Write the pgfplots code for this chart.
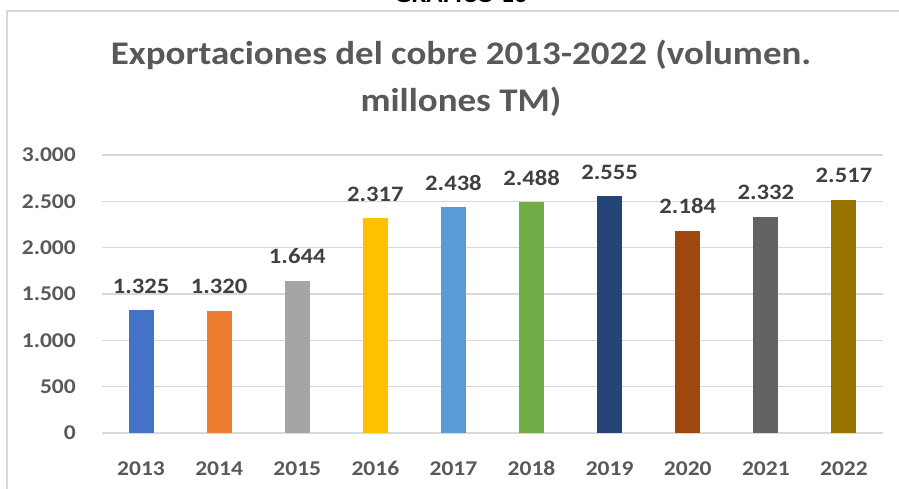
\documentclass[border=0pt]{standalone}
\usepackage{fontspec}
\setmainfont{Carlito}[FakeStretch=1.12]
\usepackage{pgfplots}
\pgfplotsset{compat=1.18}

\definecolor{txt}{HTML}{595959}
\definecolor{lbl}{HTML}{404040}
\definecolor{gridc}{HTML}{D9D9D9}
\definecolor{c13}{HTML}{4472C4}
\definecolor{c14}{HTML}{ED7D31}
\definecolor{c15}{HTML}{A5A5A5}
\definecolor{c16}{HTML}{FFC000}
\definecolor{c17}{HTML}{5B9BD5}
\definecolor{c18}{HTML}{70AD47}
\definecolor{c19}{HTML}{264478}
\definecolor{c20}{HTML}{9E480E}
\definecolor{c21}{HTML}{636363}
\definecolor{c22}{HTML}{997300}

\begin{document}
\begin{tikzpicture}[x=1pt,y=1pt]
\useasboundingbox (0,0) rectangle (899,488);
\begin{scope}
\clip (0,0) rectangle (899,488);
% chart frame, cut by the page on the right and at the bottom
\draw[gridc, line width=1.5pt] (7,-20) -- (7,477) -- (920,477);
% caption above the frame, only its lower part shows
\node[anchor=base, font=\fontsize{24}{24}\selectfont\bfseries, text=black]
  at (461,485.5) {GRÁFICO 10};
\end{scope}
% title
\node[anchor=base, font=\fontsize{33}{33}\selectfont\bfseries, text=txt]
  at (461,423) {Exportaciones del cobre 2013-2022 (volumen.};
\node[anchor=base, font=\fontsize{33}{33}\selectfont\bfseries, text=txt]
  at (461,376) {millones TM)};

\begin{axis}[
  at={(102pt,55pt)}, anchor=south west,
  scale only axis,
  width=781pt, height=278pt,
  ybar, bar width=25pt, bar shift=0pt,
  xmin=-0.5, xmax=9.5,
  ymin=0, ymax=3000,
  xtick={0,...,9},
  xticklabels={2013,2014,2015,2016,2017,2018,2019,2020,2021,2022},
  ytick={0,500,1000,1500,2000,2500,3000},
  yticklabels={0,500,1.000,1.500,2.000,2.500,3.000},
  axis line style={draw=none},
  major tick style={draw=none},
  xmajorgrids=false,
  ymajorgrids=true,
  major grid style={color=gridc, line width=1.5pt},
  ticklabel style={font=\fontsize{21}{21}\selectfont\bfseries, text=txt},
  xticklabel style={anchor=base, inner sep=0pt, yshift=-38pt},
  yticklabel style={anchor=east, inner sep=0pt, xshift=-26pt},
  nodes near coords,
  point meta=explicit symbolic,
  every node near coord/.append style={
    font=\fontsize{22}{22}\selectfont\bfseries, text=lbl,
    anchor=base, inner sep=0pt, yshift=17pt},
  clip=false,
]
\addplot[fill=c13, draw=none] coordinates {(0,1325)[1.325]};
\addplot[fill=c14, draw=none] coordinates {(1,1320)[1.320]};
\addplot[fill=c15, draw=none] coordinates {(2,1644)[1.644]};
\addplot[fill=c16, draw=none] coordinates {(3,2317)[2.317]};
\addplot[fill=c17, draw=none] coordinates {(4,2438)[2.438]};
\addplot[fill=c18, draw=none] coordinates {(5,2488)[2.488]};
\addplot[fill=c19, draw=none] coordinates {(6,2555)[2.555]};
\addplot[fill=c20, draw=none] coordinates {(7,2184)[2.184]};
\addplot[fill=c21, draw=none] coordinates {(8,2332)[2.332]};
\addplot[fill=c22, draw=none] coordinates {(9,2517)[2.517]};
\end{axis}
\end{tikzpicture}
\end{document}
